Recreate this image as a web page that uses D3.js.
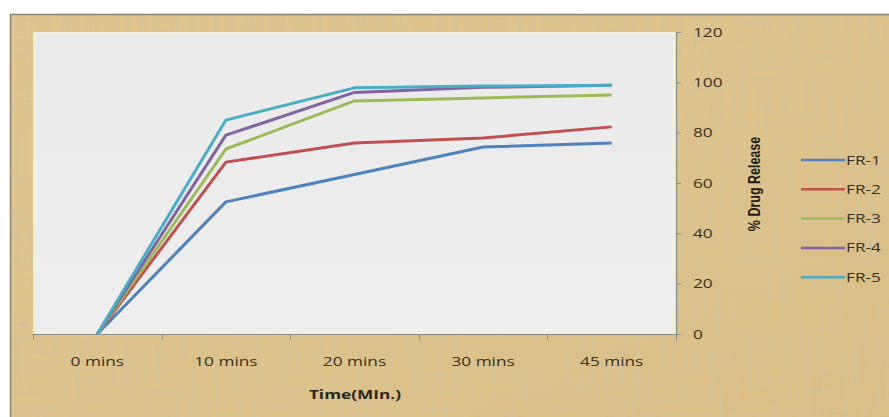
<!DOCTYPE html>
<html>
<head>
<meta charset="utf-8">
<script src="https://cdn.jsdelivr.net/npm/d3@7/dist/d3.min.js"></script>
<style>
  html, body { margin: 0; padding: 0; background: #ffffff; }
  svg { display: block; }
</style>
</head>
<body>
<svg id="chart" width="889" height="417"></svg>
<script>
// Dissolution profile: % drug release over time for five formulations
const categories = ["0 mins", "10 mins", "20 mins", "30 mins", "45 mins"];
const seriesNames = ["FR-1", "FR-2", "FR-3", "FR-4", "FR-5"];
const fr1 = [0, 52.5, 63.4, 74.3, 75.9];
const fr2 = [0, 68.3, 75.9, 77.9, 82.3];
const fr3 = [0, 73.5, 92.6, 93.8, 95.0];
const fr4 = [0, 79.0, 96.0, 98.0, 98.8];
const fr5 = [0, 85.0, 97.8, 98.5, 98.8];
const yTicks = [0, 20, 40, 60, 80, 100, 120];
const colors = ["#4F81BD", "#C0504D", "#9BBB59", "#8064A2", "#4BACC6"];

const series = [fr1, fr2, fr3, fr4, fr5].map((v, i) => ({ name: seriesNames[i], values: v, color: colors[i] }));

const svg = d3.select("#chart");
const W = 889, H = 417;
const plot = { left: 33, right: 676, top: 32, bottom: 334 };
const SX = 1.38;                 // horizontal text stretch
const FONT = "'Open Sans', sans-serif";
const TXT = "#353123";

// Papyrus-like texture for the chart background
const defs = svg.append("defs");
const f = defs.append("filter").attr("id", "papyrus")
  .attr("x", 0).attr("y", 0).attr("width", "100%").attr("height", "100%");
f.append("feTurbulence").attr("type", "fractalNoise")
  .attr("baseFrequency", "0.35 0.015").attr("numOctaves", 3).attr("seed", 3).attr("result", "n1");
f.append("feTurbulence").attr("type", "fractalNoise")
  .attr("baseFrequency", "0.015 0.35").attr("numOctaves", 3).attr("seed", 7).attr("result", "n2");
f.append("feComposite").attr("in", "n1").attr("in2", "n2")
  .attr("operator", "arithmetic").attr("k2", 0.55).attr("k3", 0.45).attr("result", "n");
f.append("feColorMatrix").attr("in", "n").attr("type", "matrix")
  .attr("values", "0 0 0 0 0.66  0 0 0 0 0.54  0 0 0 0 0.33  3.0 0 0 0 -1.3")
  .attr("result", "tint");
f.append("feComposite").attr("in", "tint").attr("in2", "SourceGraphic").attr("operator", "in").attr("result", "tex");
f.append("feMerge").selectAll("feMergeNode").data(["SourceGraphic", "tex"]).join("feMergeNode").attr("in", d => d);

const bgGrad = defs.append("linearGradient").attr("id", "bgGrad").attr("x1", 0).attr("y1", 0).attr("x2", 1).attr("y2", 1);
bgGrad.append("stop").attr("offset", "0%").attr("stop-color", "#E2C68E");
bgGrad.append("stop").attr("offset", "50%").attr("stop-color", "#DFC38A");
bgGrad.append("stop").attr("offset", "100%").attr("stop-color", "#DBBE84");

svg.append("rect").attr("x", 10).attr("y", 14).attr("width", W - 10).attr("height", H - 14)
  .attr("fill", "url(#bgGrad)").attr("filter", "url(#papyrus)");
svg.append("rect").attr("x", 10.5).attr("y", 14.5).attr("width", W).attr("height", H)
  .attr("fill", "none").attr("stroke", "#8C8468").attr("stroke-width", 1.5);

// Plot area
const plotGrad = defs.append("linearGradient").attr("id", "plotGrad").attr("x1", 0).attr("y1", 0).attr("x2", 0).attr("y2", 1);
plotGrad.append("stop").attr("offset", "0%").attr("stop-color", "#EAEAEA");
plotGrad.append("stop").attr("offset", "100%").attr("stop-color", "#EEEEEE");
svg.append("rect").attr("x", plot.left + 1.5).attr("y", plot.top + 1.5)
  .attr("width", plot.right - plot.left - 3).attr("height", plot.bottom - plot.top - 3)
  .attr("fill", "url(#plotGrad)").attr("stroke", "#F3EFDE").attr("stroke-width", 3);

// Scales
const x = d3.scaleBand().domain(categories).range([plot.left, plot.right]);
const y = d3.scaleLinear().domain([0, 120]).range([plot.bottom, plot.top]);

// Stretched text helper
function label(g, tx, ty, str, opts = {}) {
  return g.append("text")
    .attr("transform", `translate(${tx},${ty}) scale(${SX},1)`)
    .attr("text-anchor", opts.anchor || "middle")
    .attr("font-family", FONT)
    .attr("font-size", opts.size || 12.5)
    .attr("font-weight", opts.weight || 500)
    .attr("fill", opts.fill || TXT)
    .text(str);
}

// Category axis along the bottom, ticks at band boundaries
const xAxisG = svg.append("g");
xAxisG.append("line").attr("x1", plot.left).attr("x2", plot.right)
  .attr("y1", plot.bottom + 0.5).attr("y2", plot.bottom + 0.5).attr("stroke", "#8A8A80").attr("stroke-width", 1.2);
const bounds = categories.map(c => x(c)).concat([plot.right]);
xAxisG.selectAll("line.tick").data(bounds).join("line").attr("class", "tick")
  .attr("x1", d => Math.round(d) + 0.5).attr("x2", d => Math.round(d) + 0.5)
  .attr("y1", plot.bottom).attr("y2", plot.bottom + 6).attr("stroke", "#8A8A80");
categories.forEach(c => label(xAxisG, x(c) + x.bandwidth() / 2, plot.bottom + 32, c));

// Value axis on the right
const yAxis = d3.axisRight(y).tickValues(yTicks).tickSize(5).tickFormat("");
const yAxisG = svg.append("g").attr("transform", `translate(${plot.right},0)`).call(yAxis);
yAxisG.select(".domain").attr("stroke", "#8A8A80").attr("stroke-width", 1.2);
yAxisG.selectAll(".tick line").attr("stroke", "#8A8A80");
yTicks.forEach(t => label(svg, plot.right + 17, y(t) + 4.5, String(t), { anchor: "start" }));

// Axis titles
label(svg, 355, 399, "Time(MIn.)", { weight: "bold", fill: "#2A271C" });
svg.append("text").attr("transform", "translate(760,184) rotate(-90) scale(1,1.35)").attr("text-anchor", "middle")
  .attr("font-family", "'Liberation Sans Narrow', 'Arial Narrow', sans-serif").attr("font-weight", "bold")
  .attr("font-size", 12.5).attr("fill", "#1E1C14").text("% Drug Release");

// Series lines
const line = d3.line()
  .x((d, i) => x(categories[i]) + x.bandwidth() / 2)
  .y(d => y(d));
svg.append("g").selectAll("path").data(series).join("path")
  .attr("d", d => line(d.values))
  .attr("fill", "none").attr("stroke", d => d.color)
  .attr("stroke-width", 3).attr("stroke-linejoin", "round");

// Legend
const legend = svg.append("g").attr("transform", "translate(801,160)");
const items = legend.selectAll("g").data(series).join("g")
  .attr("transform", (d, i) => `translate(0,${i * 29.3})`);
items.append("line").attr("x1", 0).attr("x2", 44).attr("y1", 0).attr("y2", 0)
  .attr("stroke", d => d.color).attr("stroke-width", 2.5);
items.each(function (d) { label(d3.select(this), 45, 4.5, d.name, { anchor: "start" }); });
</script>
</body>
</html>
